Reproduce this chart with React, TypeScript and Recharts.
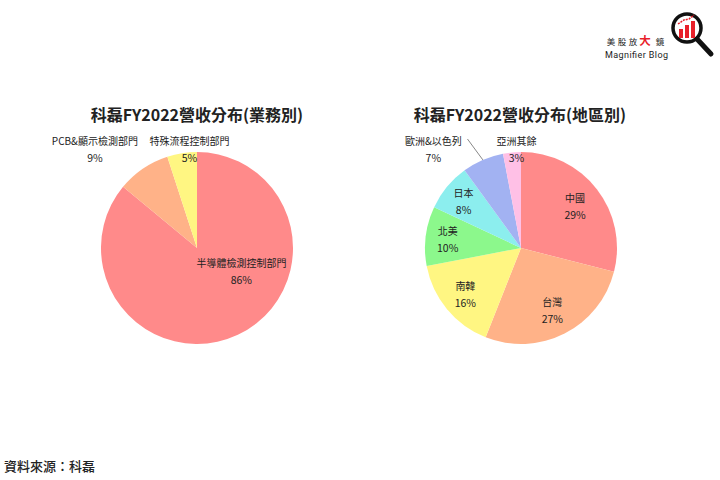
import { PieChart, Pie, Cell } from "recharts";

const bizNames = ["半導體檢測控制部門", "PCB&顯示檢測部門", "特殊流程控制部門"];
const bizShares = [86, 9, 5];

const regionNames = ["中國", "台灣", "南韓", "北美", "日本", "歐洲&以色列", "亞洲其餘"];
const regionShares = [29, 27, 16, 10, 8, 7, 3];

const bizColors = ["#FF8A8A", "#FFB288", "#FFF682"];
const regionColors = ["#FF8A8A", "#FFB288", "#FFF682", "#8CF88C", "#8CEEEE", "#A2B2F2", "#FFC0E6"];

const FONT = '"Noto Sans CJK TC", "Noto Sans", sans-serif';
const R = 96;

const bizData = bizNames.map((name, i) => ({ name, value: bizShares[i] }));
const regionData = regionNames.map((name, i) => ({ name, value: regionShares[i] }));

// rough text width for right-aligned outside labels
function textWidth(s: string) {
  let w = 0;
  for (const ch of s) w += ch.charCodeAt(0) > 255 ? 10 : 6.3;
  return w;
}

function makeLabel(outside: string[], leader: string[]) {
  return (p: any) => {
    const { cx, cy, midAngle, percent, name } = p;
    const rad = Math.PI / 180;
    const pct = `${Math.round(percent * 100)}%`;
    if (outside.includes(name)) {
      const c = Math.cos(midAngle * rad);
      const s = Math.sin(midAngle * rad);
      const y = cy - R - 2;
      let x: number;
      let right: number;
      if (c < -0.3) {
        right = cx - 0.62 * R;
        x = right - textWidth(name) / 2;
      } else {
        x = cx + c * R * 0.5;
        right = x + textWidth(name) / 2;
      }
      const ex = cx + c * R;
      const ey = cy - s * R;
      return (
        <g>
          {leader.includes(name) && (
            <polyline points={`${ex},${ey} ${right + 6},${y - 11}`} fill="none" stroke="#888" strokeWidth={1} />
          )}
          <text x={x} y={y - 5} textAnchor="middle" fontSize={10} fill="#222" fontFamily={FONT}>{name}</text>
          <text x={x} y={y + 12} textAnchor="middle" fontSize={10.5} fill="#222" fontFamily={FONT}>{pct}</text>
        </g>
      );
    }
    // large slices sit nearer the horizontal
    const a = percent > 0.5 ? midAngle * 0.42 : midAngle;
    const k = percent > 0.5 ? 0.52 : 0.8 - 0.3 * percent;
    const x = cx + Math.cos(a * rad) * R * k;
    const y = cy - Math.sin(a * rad) * R * k;
    return (
      <g>
        <text x={x} y={y - 4} textAnchor="middle" fontSize={10} fill="#222" fontFamily={FONT}>{name}</text>
        <text x={x} y={y + 13} textAnchor="middle" fontSize={10.5} fill="#222" fontFamily={FONT}>{pct}</text>
      </g>
    );
  };
}

const logoChars = [
  { ch: "美", x: 611 },
  { ch: "股", x: 622 },
  { ch: "放", x: 633 },
  { ch: "鏡", x: 660 },
];

export default function App() {
  return (
    <div style={{ position: "absolute", left: 0, top: 0, width: 720, height: 480, background: "#fff" }}>
      <PieChart width={720} height={480} margin={{ top: 0, right: 0, bottom: 0, left: 0 }}>
        <Pie
          data={bizData}
          dataKey="value"
          nameKey="name"
          cx={197}
          cy={248}
          outerRadius={R}
          startAngle={90}
          endAngle={-270}
          stroke="none"
          labelLine={false}
          label={makeLabel(["PCB&顯示檢測部門", "特殊流程控制部門"], [])}
          isAnimationActive={false}
        >
          {bizData.map((d, i) => <Cell key={d.name} fill={bizColors[i]} />)}
        </Pie>
        <Pie
          data={regionData}
          dataKey="value"
          nameKey="name"
          cx={521}
          cy={248}
          outerRadius={R}
          startAngle={90}
          endAngle={-270}
          stroke="none"
          labelLine={false}
          label={makeLabel(["歐洲&以色列", "亞洲其餘"], ["歐洲&以色列"])}
          isAnimationActive={false}
        >
          {regionData.map((d, i) => <Cell key={d.name} fill={regionColors[i]} />)}
        </Pie>
      </PieChart>
      <svg width={720} height={480} style={{ position: "absolute", left: 0, top: 0, pointerEvents: "none" }}>
        <text x={197} y={121} textAnchor="middle" fontSize={16} fontWeight="bold" fill="#222" fontFamily={FONT}>科磊FY2022營收分布(業務別)</text>
        <text x={520} y={121} textAnchor="middle" fontSize={16} fontWeight="bold" fill="#222" fontFamily={FONT}>科磊FY2022營收分布(地區別)</text>
        <text x={4} y={471} fontSize={13} fontWeight={500} fill="#222" fontFamily={FONT}>資料來源：科磊</text>
        {/* logo */}
        {logoChars.map(c => (
          <text key={c.ch} x={c.x} y={45} textAnchor="middle" fontSize={8.5} fill="#222" fontFamily={FONT}>{c.ch}</text>
        ))}
        <text x={645} y={45} textAnchor="middle" fontSize={11.5} fontWeight="bold" fill="#E8202A" fontFamily={FONT}>大</text>
        <text x={605} y={58} fontSize={9} textLength={63} fill="#222" fontFamily={"Roboto, sans-serif"}>Magnifier Blog</text>
        <circle cx={687} cy={28} r={14} fill="#fff" stroke="#111" strokeWidth={3.5} />
        <line x1={697} y1={39} x2={711} y2={54} stroke="#111" strokeWidth={5} strokeLinecap="round" />
        <rect x={679} y={29} width={4} height={9} fill="#E8202A" />
        <rect x={685} y={25} width={4} height={13} fill="#E8202A" />
        <rect x={691} y={21} width={4} height={17} fill="#E8202A" />
        <polyline points="678,24 684,20 689,19 694,15" fill="none" stroke="#E8202A" strokeWidth={1.5} strokeDasharray="2 1" />
      </svg>
    </div>
  );
}
